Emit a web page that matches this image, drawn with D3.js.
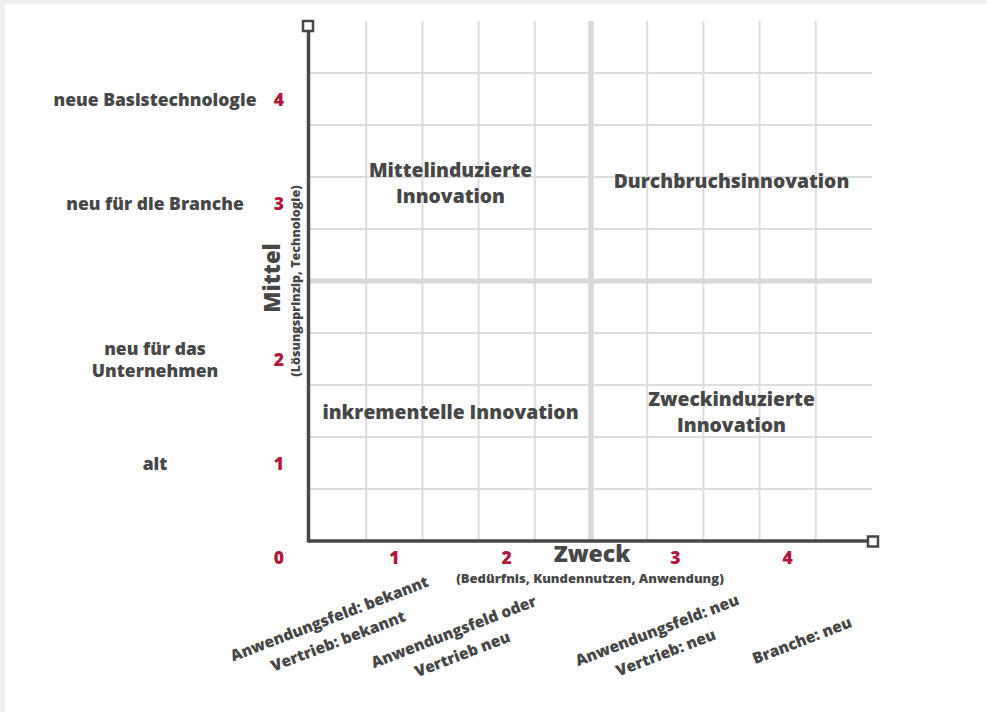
<!DOCTYPE html>
<html>
<head>
<meta charset="utf-8">
<script src="https://cdn.jsdelivr.net/npm/d3@7"></script>
<style>
  html, body { margin: 0; padding: 0; background: #efefef; }
  svg { display: block; }
  text { font-family: "Open Sans", Roboto, sans-serif; font-weight: 800; }
</style>
</head>
<body>
<script>
// grid is 10 x 10 cells, values below are in grid units
const gridLines = [1, 2, 3, 4, 5, 6, 7, 8, 9],
      thickLine = 5;

// numbered levels on both axes
const levelPos = [1.5, 3.5, 6.5, 8.5],
      levelNums = ['1', '2', '3', '4'];

// y axis: Mittel
const mittelLabels = [
  ['alt'],
  ['neu für das', 'Unternehmen'],
  ['neu für die Branche'],
  ['neue Basistechnologie']
];

// x axis: Zweck (rotated labels), anchor [x, y] in grid units
const zweckLabels = [
  ['Anwendungsfeld: bekannt', 'Vertrieb: bekannt'],
  ['Anwendungsfeld oder', 'Vertrieb neu'],
  ['Anwendungsfeld: neu', 'Vertrieb: neu'],
  ['Branche: neu']
];
const zweckAnchor = [[0.42, -1.7], [2.63, -1.95], [6.25, -1.92], [8.75, -1.9]];

// quadrant names, centre [x, y] in grid units
const quadrants = [
  { lines: ['Mittelinduzierte', 'Innovation'], at: [2.5, 6.9] },
  { lines: ['Durchbruchsinnovation'], at: [7.5, 6.94] },
  { lines: ['inkrementelle Innovation'], at: [2.5, 2.5] },
  { lines: ['Zweckinduzierte', 'Innovation'], at: [7.5, 2.5] }
];

const width = 987, height = 712,
      dark = '#474747', red = '#b0173c', grid = '#dddddd';

const x = d3.scaleLinear().domain([0, 10]).range([310, 872]),
      y = d3.scaleLinear().domain([0, 10]).range([541, 21]);

const svg = d3.select('body').append('svg')
  .attr('width', width)
  .attr('height', height);

svg.append('rect')
  .attr('x', 5).attr('y', 4)
  .attr('width', width - 5).attr('height', height - 4)
  .attr('fill', 'white');

// grid
const g = svg.append('g');
g.selectAll('line.v')
  .data(gridLines)
  .enter().append('line')
    .attr('class', 'v')
    .attr('x1', d => x(d)).attr('x2', d => x(d))
    .attr('y1', y(0)).attr('y2', y(10))
    .attr('stroke', d => d === thickLine ? '#d8d8d8' : grid)
    .attr('stroke-width', d => d === thickLine ? 5.5 : 2);

g.selectAll('line.h')
  .data(gridLines)
  .enter().append('line')
    .attr('class', 'h')
    .attr('y1', d => y(d)).attr('y2', d => y(d))
    .attr('x1', x(0)).attr('x2', x(10))
    .attr('stroke', d => d === thickLine ? '#d8d8d8' : grid)
    .attr('stroke-width', d => d === thickLine ? 5 : 2);

// axes
svg.append('line')
  .attr('x1', x(0) - 1.5).attr('x2', x(10))
  .attr('y1', y(0)).attr('y2', y(0))
  .attr('stroke', dark).attr('stroke-width', 3.5);
svg.append('line')
  .attr('x1', x(0) - 1.5).attr('x2', x(0) - 1.5)
  .attr('y1', y(0) + 1.5).attr('y2', y(10) + 5)
  .attr('stroke', dark).attr('stroke-width', 3.5);

svg.selectAll('rect.end')
  .data([[x(10) + 1, y(0) + 0.5], [x(0) - 2, y(10) + 5]])
  .enter().append('rect')
    .attr('class', 'end')
    .attr('x', d => d[0] - 5).attr('y', d => d[1] - 5)
    .attr('width', 10).attr('height', 10)
    .attr('fill', 'white')
    .attr('stroke', dark).attr('stroke-width', 2.5);

// red level numbers
const numStyle = sel => sel
  .attr('fill', red)
  .attr('font-size', 17.5)
  .attr('text-anchor', 'middle')
  .attr('dominant-baseline', 'central');

svg.append('text').call(numStyle)
  .attr('x', x(0) - 31).attr('y', y(0) + 16)
  .text('0');

svg.selectAll('text.xnum')
  .data(levelPos)
  .enter().append('text')
    .attr('class', 'xnum')
    .call(numStyle)
    .attr('x', d => x(d)).attr('y', y(0) + 16)
    .text((d, i) => levelNums[i]);

svg.selectAll('text.ynum')
  .data(levelPos)
  .enter().append('text')
    .attr('class', 'ynum')
    .call(numStyle)
    .attr('x', x(0) - 31).attr('y', d => y(d))
    .text((d, i) => levelNums[i]);

// multi line text helper
const lines = (sel, spacing) => sel.each(function(d) {
  const ls = d.lines || d;
  d3.select(this).selectAll('tspan')
    .data(ls)
    .enter().append('tspan')
      .attr('x', 0)
      .attr('y', (l, i) => (i - (ls.length - 1) / 2) * spacing)
      .text(l => l);
});

// Mittel labels
svg.selectAll('text.mittel')
  .data(mittelLabels)
  .enter().append('text')
    .attr('class', 'mittel')
    .attr('transform', (d, i) => `translate(${x(0) - 155},${y(levelPos[i])})`)
    .attr('fill', dark)
    .attr('font-size', 17.5)
    .attr('text-anchor', 'middle')
    .attr('dominant-baseline', 'central')
    .call(lines, 22);

// Zweck labels
svg.selectAll('text.zweck')
  .data(zweckLabels)
  .enter().append('text')
    .attr('class', 'zweck')
    .attr('transform', (d, i) => `translate(${x(zweckAnchor[i][0])},${y(zweckAnchor[i][1])}) rotate(-21)`)
    .attr('fill', dark)
    .attr('font-size', 15.5)
    .attr('text-anchor', 'middle')
    .attr('dominant-baseline', 'central')
    .call(lines, 24);

// quadrants
svg.selectAll('text.quad')
  .data(quadrants)
  .enter().append('text')
    .attr('class', 'quad')
    .attr('transform', d => `translate(${x(d.at[0])},${y(d.at[1])})`)
    .attr('fill', dark)
    .attr('font-size', 19.3)
    .attr('text-anchor', 'middle')
    .attr('dominant-baseline', 'central')
    .call(lines, 26);

// axis titles
svg.append('text')
  .attr('transform', `translate(${x(0) - 39},${y(5) - 3}) rotate(-90)`)
  .attr('fill', dark).attr('font-size', 22)
  .attr('text-anchor', 'middle').attr('dominant-baseline', 'central')
  .text('Mittel');
svg.append('text')
  .attr('transform', `translate(${x(0) - 15},${y(5)}) rotate(-90)`)
  .attr('fill', dark).attr('font-size', 12.5)
  .attr('text-anchor', 'middle').attr('dominant-baseline', 'central')
  .text('(Lösungsprinzip, Technologie)');

svg.append('text')
  .attr('transform', `translate(${x(5) + 1},${y(0) + 12})`)
  .attr('fill', dark).attr('font-size', 23)
  .attr('text-anchor', 'middle').attr('dominant-baseline', 'central')
  .text('Zweck');
svg.append('text')
  .attr('transform', `translate(${x(5) - 1},${y(0) + 37})`)
  .attr('fill', dark).attr('font-size', 13)
  .attr('text-anchor', 'middle').attr('dominant-baseline', 'central')
  .text('(Bedürfnis, Kundennutzen, Anwendung)');
</script>
</body>
</html>
